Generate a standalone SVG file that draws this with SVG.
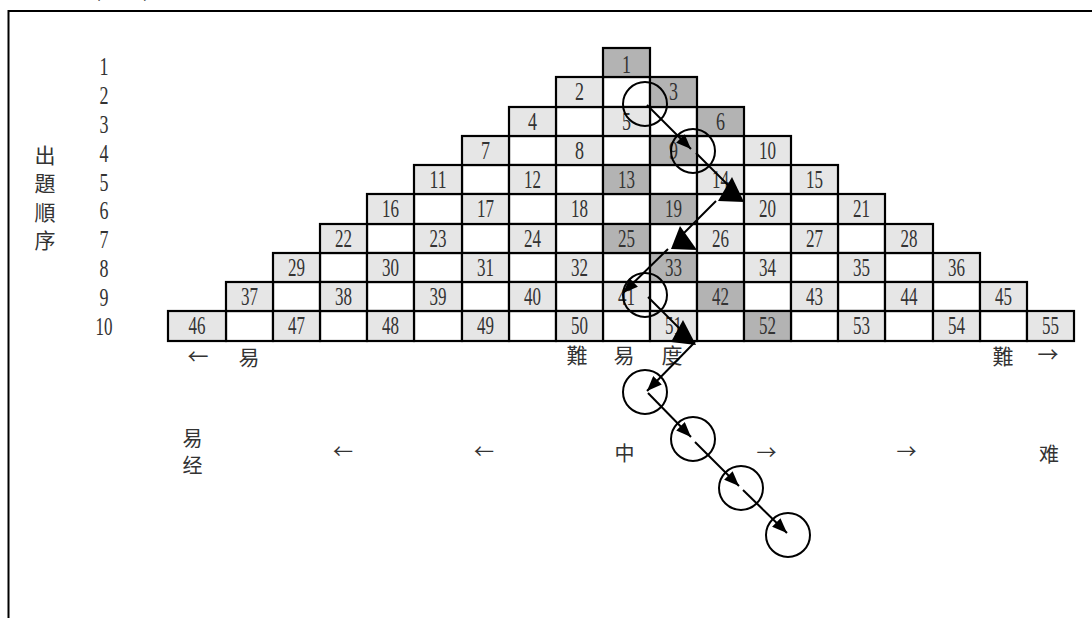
<svg xmlns="http://www.w3.org/2000/svg" width="1092" height="618" viewBox="0 0 1092 618">
<style>
.c{stroke:#000;stroke-width:2.2}
.l{fill:#e6e6e6}.d{fill:#b3b3b3}.w{fill:#fff}
.n{font-family:"Liberation Serif",serif;font-size:25px;fill:#333;text-anchor:middle}
.cj{font-family:"Liberation Serif","Noto Sans CJK TC",serif;font-size:21px;fill:#333;text-anchor:middle}
.ac{font-family:"Noto Sans CJK TC",sans-serif;font-size:21px;fill:#333;text-anchor:middle}
.sc{font-family:"Noto Sans CJK SC",sans-serif;font-size:20px;fill:#333;text-anchor:middle}
.ar{stroke:#000;stroke-width:2;fill:none}
.ci{stroke:#000;stroke-width:2;fill:none}
</style>
<defs>
<marker id="ah" markerUnits="userSpaceOnUse" markerWidth="16" markerHeight="12" refX="15" refY="6" orient="auto"><path d="M0,0 L15,6 L0,12 z" fill="#000"/></marker>
</defs>
<rect width="1092" height="618" fill="#fff"/>
<text class="ac" x="150" y="-3" font-size="22" style="text-anchor:end">方式(圖一)</text>
<path d="M8.5,618 V11 H1092" stroke="#000" stroke-width="2" fill="none"/>
<g id="labels">
<text class="cj" x="45" y="163">出</text>
<text class="cj" x="45" y="191">題</text>
<text class="cj" x="45" y="220">順</text>
<text class="cj" x="45" y="248">序</text>
<text class="n" x="104" y="74.5" textLength="9" lengthAdjust="spacingAndGlyphs">1</text>
<text class="n" x="104" y="103.5" textLength="9" lengthAdjust="spacingAndGlyphs">2</text>
<text class="n" x="104" y="132.5" textLength="9" lengthAdjust="spacingAndGlyphs">3</text>
<text class="n" x="104" y="161.5" textLength="9" lengthAdjust="spacingAndGlyphs">4</text>
<text class="n" x="104" y="190.5" textLength="9" lengthAdjust="spacingAndGlyphs">5</text>
<text class="n" x="104" y="219" textLength="9" lengthAdjust="spacingAndGlyphs">6</text>
<text class="n" x="104" y="248" textLength="9" lengthAdjust="spacingAndGlyphs">7</text>
<text class="n" x="104" y="277" textLength="9" lengthAdjust="spacingAndGlyphs">8</text>
<text class="n" x="104" y="306" textLength="9" lengthAdjust="spacingAndGlyphs">9</text>
<text class="n" x="104" y="335" textLength="17" lengthAdjust="spacingAndGlyphs">10</text>
</g>
<g id="blanks" class="c w">
<rect x="603" y="77" width="47" height="30"/>
<rect x="556" y="107" width="47" height="29"/><rect x="650" y="107" width="47" height="29"/>
<rect x="509" y="136" width="47" height="29"/><rect x="603" y="136" width="47" height="29"/><rect x="697" y="136" width="47" height="29"/>
<rect x="462" y="165" width="47" height="29"/><rect x="556" y="165" width="47" height="29"/><rect x="650" y="165" width="47" height="29"/><rect x="744" y="165" width="47" height="29"/>
<rect x="414" y="194" width="48" height="30"/><rect x="509" y="194" width="47" height="30"/><rect x="603" y="194" width="47" height="30"/><rect x="697" y="194" width="47" height="30"/><rect x="791" y="194" width="47" height="30"/>
<rect x="367" y="224" width="47" height="29"/><rect x="462" y="224" width="47" height="29"/><rect x="556" y="224" width="47" height="29"/><rect x="650" y="224" width="47" height="29"/><rect x="744" y="224" width="47" height="29"/><rect x="838" y="224" width="47" height="29"/>
<rect x="320" y="253" width="47" height="29"/><rect x="414" y="253" width="48" height="29"/><rect x="509" y="253" width="47" height="29"/><rect x="603" y="253" width="47" height="29"/><rect x="697" y="253" width="47" height="29"/><rect x="791" y="253" width="47" height="29"/><rect x="885" y="253" width="48" height="29"/>
<rect x="273" y="282" width="47" height="29"/><rect x="367" y="282" width="47" height="29"/><rect x="462" y="282" width="47" height="29"/><rect x="556" y="282" width="47" height="29"/><rect x="650" y="282" width="47" height="29"/><rect x="744" y="282" width="47" height="29"/><rect x="838" y="282" width="47" height="29"/><rect x="933" y="282" width="47" height="29"/>
<rect x="226" y="311" width="47" height="30"/><rect x="320" y="311" width="47" height="30"/><rect x="414" y="311" width="48" height="30"/><rect x="509" y="311" width="47" height="30"/><rect x="603" y="311" width="47" height="30"/><rect x="697" y="311" width="47" height="30"/><rect x="791" y="311" width="47" height="30"/><rect x="885" y="311" width="48" height="30"/><rect x="980" y="311" width="47" height="30"/>
</g>
<g id="n1"><rect class="c d" x="603" y="48" width="47" height="29"/><text class="n" x="626.5" y="73" textLength="9" lengthAdjust="spacingAndGlyphs">1</text></g>
<g id="n2"><rect class="c l" x="556" y="77" width="47" height="30"/><text class="n" x="579.5" y="100" textLength="9" lengthAdjust="spacingAndGlyphs">2</text></g>
<g id="n3"><rect class="c d" x="650" y="77" width="47" height="30"/><text class="n" x="673.5" y="100" textLength="9" lengthAdjust="spacingAndGlyphs">3</text></g>
<g id="n4"><rect class="c l" x="509" y="107" width="47" height="29"/><text class="n" x="532.5" y="129.5" textLength="9" lengthAdjust="spacingAndGlyphs">4</text></g>
<g id="n5"><rect class="c l" x="603" y="107" width="47" height="29"/><text class="n" x="626.5" y="129.5" textLength="9" lengthAdjust="spacingAndGlyphs">5</text></g>
<g id="n6"><rect class="c d" x="697" y="107" width="47" height="29"/><text class="n" x="720.5" y="129.5" textLength="9" lengthAdjust="spacingAndGlyphs">6</text></g>
<g id="n7"><rect class="c l" x="462" y="136" width="47" height="29"/><text class="n" x="485.5" y="158.5" textLength="9" lengthAdjust="spacingAndGlyphs">7</text></g>
<g id="n8"><rect class="c l" x="556" y="136" width="47" height="29"/><text class="n" x="579.5" y="158.5" textLength="9" lengthAdjust="spacingAndGlyphs">8</text></g>
<g id="n9"><rect class="c d" x="650" y="136" width="47" height="29"/><text class="n" x="673.5" y="158.5" textLength="9" lengthAdjust="spacingAndGlyphs">9</text></g>
<g id="n10"><rect class="c l" x="744" y="136" width="47" height="29"/><text class="n" x="767.5" y="158.5" textLength="17" lengthAdjust="spacingAndGlyphs">10</text></g>
<g id="n11"><rect class="c l" x="414" y="165" width="48" height="29"/><text class="n" x="438" y="187.5" textLength="17" lengthAdjust="spacingAndGlyphs">11</text></g>
<g id="n12"><rect class="c l" x="509" y="165" width="47" height="29"/><text class="n" x="532.5" y="187.5" textLength="17" lengthAdjust="spacingAndGlyphs">12</text></g>
<g id="n13"><rect class="c d" x="603" y="165" width="47" height="29"/><text class="n" x="626.5" y="187.5" textLength="17" lengthAdjust="spacingAndGlyphs">13</text></g>
<g id="n14"><rect class="c l" x="697" y="165" width="47" height="29"/><text class="n" x="720.5" y="187.5" textLength="17" lengthAdjust="spacingAndGlyphs">14</text></g>
<g id="n15"><rect class="c l" x="791" y="165" width="47" height="29"/><text class="n" x="814.5" y="187.5" textLength="17" lengthAdjust="spacingAndGlyphs">15</text></g>
<g id="n16"><rect class="c l" x="367" y="194" width="47" height="30"/><text class="n" x="390.5" y="217" textLength="17" lengthAdjust="spacingAndGlyphs">16</text></g>
<g id="n17"><rect class="c l" x="462" y="194" width="47" height="30"/><text class="n" x="485.5" y="217" textLength="17" lengthAdjust="spacingAndGlyphs">17</text></g>
<g id="n18"><rect class="c l" x="556" y="194" width="47" height="30"/><text class="n" x="579.5" y="217" textLength="17" lengthAdjust="spacingAndGlyphs">18</text></g>
<g id="n19"><rect class="c d" x="650" y="194" width="47" height="30"/><text class="n" x="673.5" y="217" textLength="17" lengthAdjust="spacingAndGlyphs">19</text></g>
<g id="n20"><rect class="c l" x="744" y="194" width="47" height="30"/><text class="n" x="767.5" y="217" textLength="17" lengthAdjust="spacingAndGlyphs">20</text></g>
<g id="n21"><rect class="c l" x="838" y="194" width="47" height="30"/><text class="n" x="861.5" y="217" textLength="17" lengthAdjust="spacingAndGlyphs">21</text></g>
<g id="n22"><rect class="c l" x="320" y="224" width="47" height="29"/><text class="n" x="343.5" y="246.5" textLength="17" lengthAdjust="spacingAndGlyphs">22</text></g>
<g id="n23"><rect class="c l" x="414" y="224" width="48" height="29"/><text class="n" x="438" y="246.5" textLength="17" lengthAdjust="spacingAndGlyphs">23</text></g>
<g id="n24"><rect class="c l" x="509" y="224" width="47" height="29"/><text class="n" x="532.5" y="246.5" textLength="17" lengthAdjust="spacingAndGlyphs">24</text></g>
<g id="n25"><rect class="c d" x="603" y="224" width="47" height="29"/><text class="n" x="626.5" y="246.5" textLength="17" lengthAdjust="spacingAndGlyphs">25</text></g>
<g id="n26"><rect class="c l" x="697" y="224" width="47" height="29"/><text class="n" x="720.5" y="246.5" textLength="17" lengthAdjust="spacingAndGlyphs">26</text></g>
<g id="n27"><rect class="c l" x="791" y="224" width="47" height="29"/><text class="n" x="814.5" y="246.5" textLength="17" lengthAdjust="spacingAndGlyphs">27</text></g>
<g id="n28"><rect class="c l" x="885" y="224" width="48" height="29"/><text class="n" x="909" y="246.5" textLength="17" lengthAdjust="spacingAndGlyphs">28</text></g>
<g id="n29"><rect class="c l" x="273" y="253" width="47" height="29"/><text class="n" x="296.5" y="275.5" textLength="17" lengthAdjust="spacingAndGlyphs">29</text></g>
<g id="n30"><rect class="c l" x="367" y="253" width="47" height="29"/><text class="n" x="390.5" y="275.5" textLength="17" lengthAdjust="spacingAndGlyphs">30</text></g>
<g id="n31"><rect class="c l" x="462" y="253" width="47" height="29"/><text class="n" x="485.5" y="275.5" textLength="17" lengthAdjust="spacingAndGlyphs">31</text></g>
<g id="n32"><rect class="c l" x="556" y="253" width="47" height="29"/><text class="n" x="579.5" y="275.5" textLength="17" lengthAdjust="spacingAndGlyphs">32</text></g>
<g id="n33"><rect class="c d" x="650" y="253" width="47" height="29"/><text class="n" x="673.5" y="275.5" textLength="17" lengthAdjust="spacingAndGlyphs">33</text></g>
<g id="n34"><rect class="c l" x="744" y="253" width="47" height="29"/><text class="n" x="767.5" y="275.5" textLength="17" lengthAdjust="spacingAndGlyphs">34</text></g>
<g id="n35"><rect class="c l" x="838" y="253" width="47" height="29"/><text class="n" x="861.5" y="275.5" textLength="17" lengthAdjust="spacingAndGlyphs">35</text></g>
<g id="n36"><rect class="c l" x="933" y="253" width="47" height="29"/><text class="n" x="956.5" y="275.5" textLength="17" lengthAdjust="spacingAndGlyphs">36</text></g>
<g id="n37"><rect class="c l" x="226" y="282" width="47" height="29"/><text class="n" x="249.5" y="304.5" textLength="17" lengthAdjust="spacingAndGlyphs">37</text></g>
<g id="n38"><rect class="c l" x="320" y="282" width="47" height="29"/><text class="n" x="343.5" y="304.5" textLength="17" lengthAdjust="spacingAndGlyphs">38</text></g>
<g id="n39"><rect class="c l" x="414" y="282" width="48" height="29"/><text class="n" x="438" y="304.5" textLength="17" lengthAdjust="spacingAndGlyphs">39</text></g>
<g id="n40"><rect class="c l" x="509" y="282" width="47" height="29"/><text class="n" x="532.5" y="304.5" textLength="17" lengthAdjust="spacingAndGlyphs">40</text></g>
<g id="n41"><rect class="c l" x="603" y="282" width="47" height="29"/><text class="n" x="626.5" y="304.5" textLength="17" lengthAdjust="spacingAndGlyphs">41</text></g>
<g id="n42"><rect class="c d" x="697" y="282" width="47" height="29"/><text class="n" x="720.5" y="304.5" textLength="17" lengthAdjust="spacingAndGlyphs">42</text></g>
<g id="n43"><rect class="c l" x="791" y="282" width="47" height="29"/><text class="n" x="814.5" y="304.5" textLength="17" lengthAdjust="spacingAndGlyphs">43</text></g>
<g id="n44"><rect class="c l" x="885" y="282" width="48" height="29"/><text class="n" x="909" y="304.5" textLength="17" lengthAdjust="spacingAndGlyphs">44</text></g>
<g id="n45"><rect class="c l" x="980" y="282" width="47" height="29"/><text class="n" x="1003.5" y="304.5" textLength="17" lengthAdjust="spacingAndGlyphs">45</text></g>
<g id="n46"><rect class="c l" x="168" y="311" width="58" height="30"/><text class="n" x="197" y="334" textLength="17" lengthAdjust="spacingAndGlyphs">46</text></g>
<g id="n47"><rect class="c l" x="273" y="311" width="47" height="30"/><text class="n" x="296.5" y="334" textLength="17" lengthAdjust="spacingAndGlyphs">47</text></g>
<g id="n48"><rect class="c l" x="367" y="311" width="47" height="30"/><text class="n" x="390.5" y="334" textLength="17" lengthAdjust="spacingAndGlyphs">48</text></g>
<g id="n49"><rect class="c l" x="462" y="311" width="47" height="30"/><text class="n" x="485.5" y="334" textLength="17" lengthAdjust="spacingAndGlyphs">49</text></g>
<g id="n50"><rect class="c l" x="556" y="311" width="47" height="30"/><text class="n" x="579.5" y="334" textLength="17" lengthAdjust="spacingAndGlyphs">50</text></g>
<g id="n51"><rect class="c l" x="650" y="311" width="47" height="30"/><text class="n" x="673.5" y="334" textLength="17" lengthAdjust="spacingAndGlyphs">51</text></g>
<g id="n52"><rect class="c d" x="744" y="311" width="47" height="30"/><text class="n" x="767.5" y="334" textLength="17" lengthAdjust="spacingAndGlyphs">52</text></g>
<g id="n53"><rect class="c l" x="838" y="311" width="47" height="30"/><text class="n" x="861.5" y="334" textLength="17" lengthAdjust="spacingAndGlyphs">53</text></g>
<g id="n54"><rect class="c l" x="933" y="311" width="47" height="30"/><text class="n" x="956.5" y="334" textLength="17" lengthAdjust="spacingAndGlyphs">54</text></g>
<g id="n55"><rect class="c l" x="1027" y="311" width="47" height="30"/><text class="n" x="1050.5" y="334" textLength="17" lengthAdjust="spacingAndGlyphs">55</text></g>
<g id="axis1">
<text class="ac" x="198" y="364">←</text>
<text class="cj" x="249" y="365">易</text>
<text class="cj" x="577" y="363">難</text>
<text class="cj" x="624" y="363">易</text>
<text class="cj" x="672" y="363">度</text>
<text class="cj" x="1003" y="364">難</text>
<text class="ac" x="1048" y="362">→</text>
</g>
<g id="axis2">
<text class="sc" x="192.5" y="446">易</text>
<text class="sc" x="192.5" y="473">经</text>
<text class="sc" x="343" y="459">←</text>
<text class="sc" x="484" y="459">←</text>
<text class="sc" x="624.5" y="461">中</text>
<text class="sc" x="766.5" y="460">→</text>
<text class="sc" x="906.5" y="459">→</text>
<text class="sc" x="1049" y="462">难</text>
</g>
<g id="connectors">
<circle class="ci" cx="645" cy="104" r="22"/>
<circle class="ci" cx="693" cy="151" r="22"/>
<circle class="ci" cx="645" cy="295" r="22"/>
<circle class="ci" cx="645" cy="392" r="22"/>
<circle class="ci" cx="693" cy="439" r="22"/>
<circle class="ci" cx="741" cy="488" r="22"/>
<circle class="ci" cx="788" cy="535" r="22"/>
<path class="ar" d="M647,105 L691,149" marker-end="url(#ah)"/>
<path class="ar" d="M696,153 L730,187"/>
<polygon points="732,177 718,201 744,202" fill="#000"/>
<path class="ar" d="M716,201 L684,233"/>
<polygon points="680,226 671,249 697,250" fill="#000"/>
<path class="ar" d="M668,249 L623,293" marker-end="url(#ah)"/>
<path class="ar" d="M648,297 L682,331"/>
<polygon points="683,320 671,342 696,345" fill="#000"/>
<path class="ar" d="M695,342 L647,391" marker-end="url(#ah)"/>
<path class="ar" d="M648,393 L691,437" marker-end="url(#ah)"/>
<path class="ar" d="M695,442 L739,486" marker-end="url(#ah)"/>
<path class="ar" d="M743,490 L787,533" marker-end="url(#ah)"/>
</g>
</svg>
